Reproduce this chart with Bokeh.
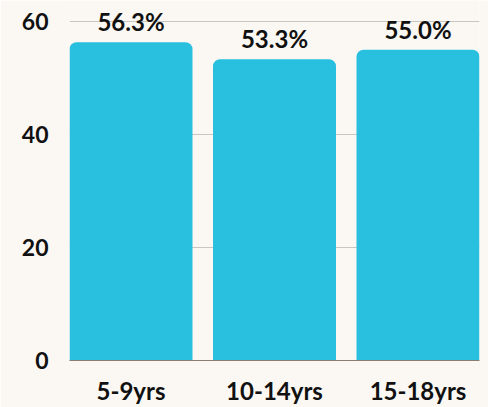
from bokeh.plotting import figure
from bokeh.models import Range1d, FixedTicker, ColumnDataSource, LabelSet
from bokeh.core.properties import value
from bokeh.embed import file_html
from bokeh.resources import INLINE

categories = ["5-9yrs", "10-14yrs", "15-18yrs"]
values = [56.3, 53.3, 55.0]
labels = ["56.3%", "53.3%", "55.0%"]
y_ticks = [0, 20, 40, 60]

BG = "#FBF8F3"
BAR = "#29BFDF"
FONT = "Lato"

xs = list(range(len(categories)))
src = ColumnDataSource(dict(x=xs, top=values, lab=labels))

bw = 0.857
p = figure(width=488, height=407, output_backend="svg", toolbar_location=None,
           x_range=Range1d(-bw / 2, len(categories) - 1 + bw / 2),
           y_range=Range1d(0, 63.7),
           min_border_left=69, min_border_right=9, min_border_top=0, min_border_bottom=44)
p.background_fill_color = BG
p.border_fill_color = BG
p.outline_line_color = None

p.vbar(x="x", top="top", width=bw, source=src, fill_color=BAR, line_color=None,
       border_radius=[7, 7, 0, 0])

p.add_layout(LabelSet(x="x", y="top", text="lab", source=src, text_align="center",
                      text_baseline="alphabetic", y_offset=11, text_font=value(FONT),
                      text_font_style="bold", text_font_size="24px", text_color="#111111"))

p.xaxis.ticker = FixedTicker(ticks=xs)
p.xaxis.major_label_overrides = {i: c for i, c in enumerate(categories)}
p.xaxis.axis_line_color = "#8a7d74"
p.xaxis.major_tick_line_color = None
p.xaxis.minor_tick_line_color = None
p.xaxis.major_tick_in = 0
p.xaxis.major_tick_out = 0
p.xaxis.major_label_standoff = 15
p.xaxis.major_label_text_font = FONT
p.xaxis.major_label_text_font_style = "bold"
p.xaxis.major_label_text_font_size = "24px"
p.xaxis.major_label_text_color = "#111111"

p.yaxis.ticker = FixedTicker(ticks=y_ticks)
p.yaxis.axis_line_color = None
p.yaxis.major_tick_line_color = None
p.yaxis.minor_tick_line_color = None
p.yaxis.major_tick_in = 0
p.yaxis.major_tick_out = 0
p.yaxis.major_label_standoff = 21
p.yaxis.major_label_text_font = FONT
p.yaxis.major_label_text_font_style = "bold"
p.yaxis.major_label_text_font_size = "23px"
p.yaxis.major_label_text_color = "#111111"

p.xgrid.grid_line_color = None
p.ygrid.grid_line_color = "#c9c6c2"
p.ygrid.grid_line_width = 1

html = file_html(p, INLINE)
html = html.replace("<body>", '<body style="background-color:%s;">' % BG, 1)
open("out.html", "w").write(html)
